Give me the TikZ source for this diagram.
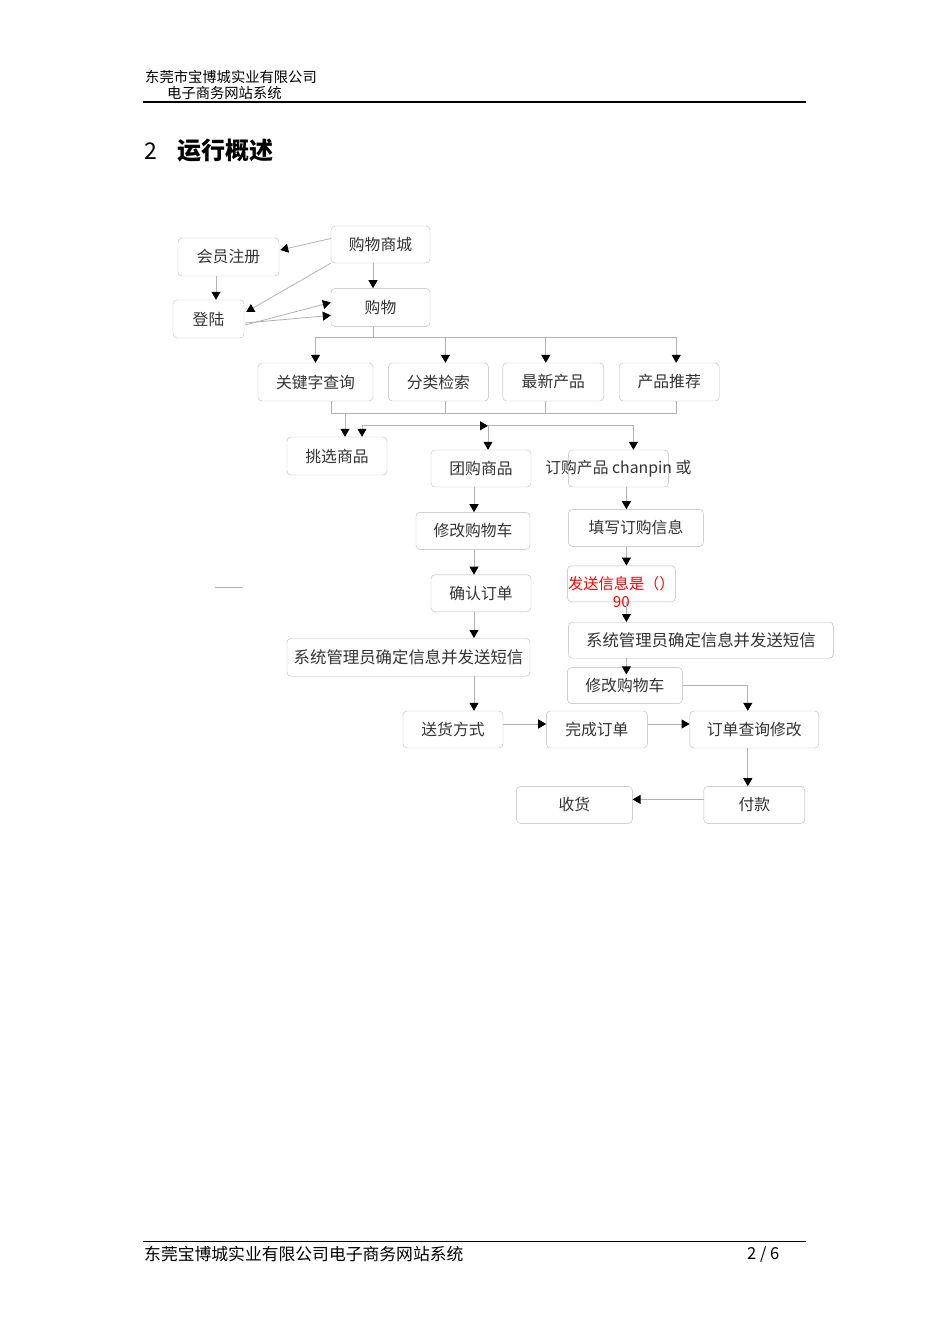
\documentclass[tikz,border=0pt]{standalone}
\usepackage{fontspec}
\setmainfont{Noto Sans CJK SC}
\usepackage{tikz}
\usetikzlibrary{shapes,arrows.meta}
\usetikzlibrary{positioning,calc}
\newcommand{\boxfont}{\fontsize{15.8}{18}\selectfont}
\newcommand{\longfont}{\fontsize{16.4}{19}\selectfont}
\tikzset{x=1pt, y=-1pt, >={Triangle[length=8pt,width=9pt,color=black]}, font=\boxfont}
\tikzstyle{block} = [draw=gray!55, fill=white, rectangle, rounded corners=4pt, minimum height=38pt, minimum width=100pt, inner sep=0pt, text centered, text=black!80]
\tikzstyle{link} = [draw=gray!60, line width=0.8pt]
\tikzstyle{flow} = [link, ->]
\tikzstyle{caption} = [inner sep=0pt, anchor=west, text=black]

\begin{document}
\begin{tikzpicture}
    \useasboundingbox (0,0) rectangle (950,1344);

    % page head and foot
    \node [caption, font=\fontsize{14.3}{16}\selectfont] (head1) at (145,77) {东莞市宝博城实业有限公司};
    \node [caption, font=\fontsize{14.3}{16}\selectfont] (head2) at (167,93) {电子商务网站系统};
    \coordinate (hl) at (143,102);
    \coordinate (hr) at (806,102);
    \draw [line width=1.6pt] (hl) -- (hr);
    \node [caption, font=\fontsize{23}{24}\selectfont] (secno) at (144,151) {2};
    \node [caption, font=\fontsize{24}{26}\selectfont\bfseries] (sectitle) at (177,151) {运行概述};
    \coordinate (fl) at (143,1241);
    \coordinate (fr) at (806,1241);
    \draw [line width=0.8pt] (fl) -- (fr);
    \node [caption, font=\fontsize{16.8}{18}\selectfont] (foot) at (144,1254) {东莞宝博城实业有限公司电子商务网站系统};
    \node [caption, font=\fontsize{16.5}{18}\selectfont] (page) at (747,1254) {2 / 6};

    % boxes
    \node [block, minimum width=99pt, minimum height=37pt] (mall) at (380.5,244.5) {购物商城};
    \node [block, minimum width=99pt, below=25pt of mall] (shop) {购物};
    \node [block, minimum width=101pt] (reg) at (228.5,257) {会员注册};
    \node [block, minimum width=71pt] (login) at (208.5,319) {登陆};
    \node [block, minimum width=115pt] (kw) at (315.5,382) {关键字查询};
    \node [block, right=15pt of kw] (cat) {分类检索};
    \node [block, minimum width=101pt, right=14pt of cat] (new) {最新产品};
    \node [block, right=15pt of new] (rec) {产品推荐};
    \node [block] (pick) at (337,456) {挑选商品};
    \node [block, minimum height=37pt] (group) at (481,468.5) {团购商品};
    \node [block, minimum height=37pt, inner xsep=-25pt, right=37pt of group] (order) {订购产品 chanpin 或};
    \node [block, minimum width=114pt, minimum height=37pt, below=25pt of group, xshift=-8pt] (cartA) {修改购物车};
    \node [block, minimum height=37pt, below=25pt of cartA, xshift=8pt] (confirm) {确认订单};
    \node [block, minimum width=243pt, font=\longfont, below=26pt of confirm, xshift=-72.5pt] (adminA) {系统管理员确定信息并发送短信};
    \node [block, minimum width=135pt, minimum height=37pt, below=22pt of order, xshift=17.5pt] (fill) {填写订购信息};
    \node [block, minimum width=108pt, minimum height=36pt, below=19pt of fill, xshift=-14.5pt,
           label={[red, align=center, inner sep=0pt, font=\fontsize{15.2}{18}\selectfont, yshift=-8pt]center:发送信息是（）\\90}] (send) {};
    \node [block, minimum width=265pt, minimum height=36pt, font=\longfont, below=20pt of send, xshift=79.5pt] (adminB) {系统管理员确定信息并发送短信};
    \node [block, minimum width=115pt, minimum height=36pt, below=9pt of adminB, xshift=-76pt] (cartB) {修改购物车};
    \node [block, minimum height=37pt] (ship) at (453,729.5) {送货方式};
    \node [block, minimum width=101pt, minimum height=37pt, right=43pt of ship] (done) {完成订单};
    \node [block, minimum width=129pt, minimum height=37pt, right=42pt of done] (query) {订单查询修改};
    \node [block, minimum width=101pt, minimum height=37pt, below=38pt of query] (pay) {付款};
    \node [block, minimum width=116pt, minimum height=37pt, left=71pt of pay] (recv) {收货};

    % top
    \draw [flow] ($(mall.west)+(0,-6)$) -- ($(reg.east)+(1,-7)$);
    \draw [flow] (mall.south west) -- ($(login.east)+(2,-7)$);
    \draw [flow] ($(reg.south)+(-12.5,0)$) -- ($(login.north)+(7.5,0)$);
    \draw [flow] ($(mall.south)+(-7.5,0)$) -- ($(shop.north)+(-7.5,0)$);
    \draw [flow] ($(login.east)+(1,6)$) -- ($(shop.west)+(0,-5)$);
    \draw [flow] ($(login.east)+(1,4)$) -- ($(shop.west)+(0,8)$);

    % search row
    \coordinate (fan) at ($(shop.south)+(-7.5,11)$);
    \coordinate (catin) at ($(cat.north)+(7,0)$);
    \coordinate (newin) at ($(new.north)+(-7.5,0)$);
    \coordinate (recin) at ($(rec.north)+(7,0)$);
    \draw [link] ($(shop.south)+(-7.5,0)$) -- (fan);
    \draw [flow] (fan) -| (kw.north);
    \draw [flow] (fan) -| (catin);
    \draw [flow] (fan) -| (newin);
    \draw [flow] (fan) -| (recin);

    \coordinate (kwout) at ($(kw.south)+(15.5,0)$);
    \coordinate (merge) at ($(kwout)+(14,12)$);
    \draw [link] (kwout) |- ($(rec.south)+(7,12)$) -- ($(rec.south)+(7,0)$);
    \draw [link] ($(cat.south)+(7,0)$) -- ++(0,12);
    \draw [link] ($(new.south)+(-7.5,0)$) -- ++(0,12);
    \draw [flow] (merge) -- (merge |- pick.north);

    \coordinate (pickin) at ($(pick.north)+(25,0)$);
    \coordinate (hub) at ($(pickin)+(0,-11)$);
    \coordinate (groupin) at ($(group.north)+(7,0)$);
    \coordinate (orderin) at ($(order.north)+(15,0)$);
    \draw [flow] (hub) -- (pickin);
    \draw [flow] (hub) -- (groupin |- hub);
    \draw [flow] (groupin |- hub) -- (groupin);
    \draw [flow] (groupin |- hub) -| (orderin);

    % group buying column
    \coordinate (spine) at ($(group.south)+(-7,0)$);
    \draw [flow] (spine) -- (spine |- cartA.north);
    \draw [flow] (spine |- cartA.south) -- (spine |- confirm.north);
    \draw [flow] (spine |- confirm.south) -- (spine |- adminA.north);
    \draw [flow] (spine |- adminA.south) -- (spine |- ship.north);

    % order column
    \coordinate (rspine) at ($(order.south)+(8,0)$);
    \draw [flow] (rspine) -- (rspine |- fill.north);
    \draw [flow] (rspine |- fill.south) -- (rspine |- send.north);
    \draw [flow] (rspine |- send.south) -- (rspine |- adminB.north);
    \draw [flow] (rspine |- adminB.south) -- ($(rspine |- cartB.north)+(0,7)$);

    % bottom
    \coordinate (qin) at ($(query.north)+(-6.5,0)$);
    \draw [flow] (cartB.east) -| (qin);
    \draw [flow] ($(ship.east)+(0,-5.5)$) -- ($(done.west)+(0,-5.5)$);
    \draw [flow] ($(done.east)+(0,-5.5)$) -- ($(query.west)+(0,-5.5)$);
    \draw [flow] (qin |- query.south) -- (qin |- pay.north);
    \draw [flow] ($(pay.west)+(0,-5.5)$) -- ($(recv.east)+(0,-5.5)$);

    \coordinate (stray) at (215,587);
    \draw [link] (stray) -- ++(28,0);
\end{tikzpicture}
\end{document}
